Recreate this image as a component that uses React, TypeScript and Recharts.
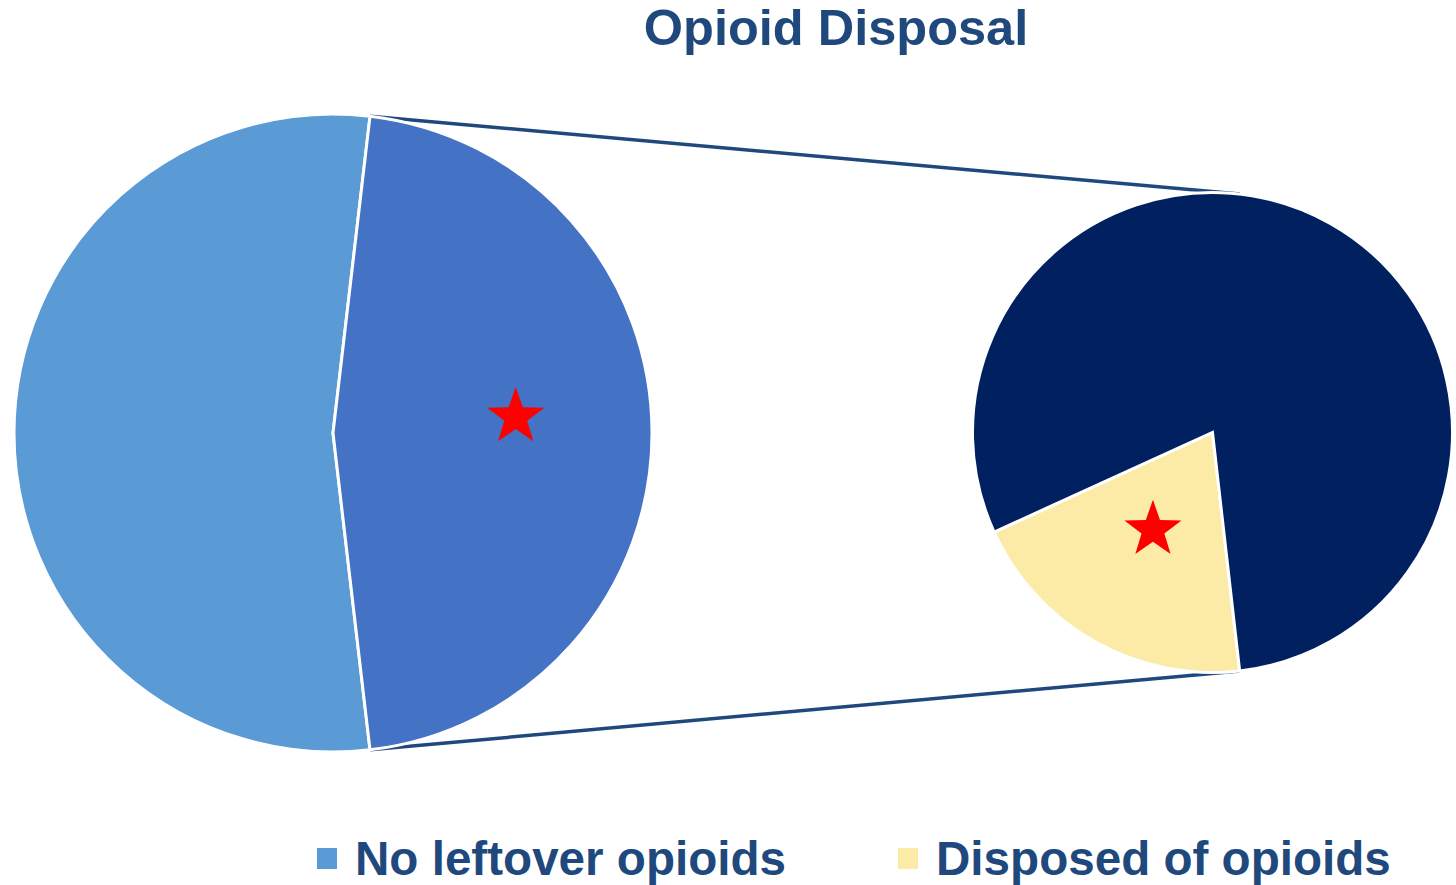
import { PieChart, Pie, Cell, Legend, Customized } from "recharts";

// survey answers, main pie
const mainCategories = ["No leftover opioids", "Leftover opioids"];
const mainValues = [29, 25];
const mainColors = ["#5B9BD5", "#4472C4"];

// breakdown of the leftover group, secondary pie
const splitCategories = ["Disposed of opioids", "Kept leftover opioids"];
const splitValues = [5, 20];
const splitColors = ["#FCEBA7", "#002060"];

const legendLabels = ["No leftover opioids", "Disposed of opioids"];
const legendColors = ["#5B9BD5", "#FCEBA7"];

const TEXT_COLOR = "#1F497D";
const FONT = '"Liberation Sans", Arial, sans-serif';

const W = 1456;
const H = 885;
const LEFT = { cx: 333, cy: 433, r: 319 };
const RIGHT = { cx: 1212.5, cy: 432.5, r: 240 };
const RIGHT_START = 204.5;
const LEGEND_X = [317, 898];

const RAD = Math.PI / 180;

const mainData = mainCategories.map((name, i) => ({ name, value: mainValues[i] }));
const splitData = splitCategories.map((name, i) => ({ name, value: splitValues[i] }));

const mainTotal = mainValues.reduce((a, b) => a + b, 0);
const splitTotal = splitValues.reduce((a, b) => a + b, 0);
// the leftover slice sits centred on the 3 o'clock axis
const halfLeftover = (mainValues[1] / mainTotal) * 180;
const splitEdge = RIGHT_START + (splitValues[0] / splitTotal) * 360;

function polar(cx: number, cy: number, r: number, deg: number) {
  return { x: cx + r * Math.cos(deg * RAD), y: cy - r * Math.sin(deg * RAD) };
}

function starPoints(x: number, y: number, outer: number) {
  const inner = outer * 0.4;
  const pts: string[] = [];
  for (let k = 0; k < 10; k++) {
    const r = k % 2 === 0 ? outer : inner;
    const a = (-90 + k * 36) * RAD;
    pts.push(`${x + r * Math.cos(a)},${y + r * Math.sin(a)}`);
  }
  return pts.join(" ");
}

// star marker drawn on a chosen slice
function makeStarLabel(target: number, radiusFrac: number, angleShift: number) {
  return (props: any) => {
    if (props.index !== target) return null;
    const p = polar(props.cx, props.cy, props.outerRadius * radiusFrac, props.midAngle + angleShift);
    return <polygon points={starPoints(p.x, p.y, 30)} fill="#FF0000" />;
  };
}

function Connectors() {
  const a1 = polar(LEFT.cx, LEFT.cy, LEFT.r, halfLeftover);
  const a2 = polar(RIGHT.cx, RIGHT.cy, RIGHT.r, 360 - splitEdge);
  const b1 = polar(LEFT.cx, LEFT.cy, LEFT.r, -halfLeftover);
  const b2 = polar(RIGHT.cx, RIGHT.cy, RIGHT.r, splitEdge);
  return (
    <g stroke={TEXT_COLOR} strokeWidth={3.5}>
      <line x1={a1.x} y1={a1.y} x2={a2.x} y2={a2.y} />
      <line x1={b1.x} y1={b1.y} x2={b2.x} y2={b2.y} />
    </g>
  );
}

function Title() {
  return (
    <text
      x={836}
      y={45}
      textAnchor="middle"
      fill={TEXT_COLOR}
      fontFamily={FONT}
      fontWeight="bold"
      fontSize={50.5}
    >
      Opioid Disposal
    </text>
  );
}

function LegendContent() {
  return (
    <div style={{ position: "relative", width: W, height: 47 }}>
      {legendLabels.map((label, i) => (
        <div
          key={label}
          style={{
            position: "absolute",
            left: LEGEND_X[i],
            top: 0,
            height: 47,
            display: "flex",
            alignItems: "center",
            whiteSpace: "nowrap",
          }}
        >
          <span
            style={{
              width: 20,
              height: 21,
              background: legendColors[i],
              marginRight: 18,
              display: "inline-block",
            }}
          />
          <span
            style={{
              fontFamily: FONT,
              fontWeight: "bold",
              fontSize: 47.6,
              lineHeight: 1,
              color: TEXT_COLOR,
            }}
          >
            {label}
          </span>
        </div>
      ))}
    </div>
  );
}

export default function App() {
  return (
    <div style={{ position: "absolute", left: 0, top: 0, width: W, height: H, background: "#fff" }}>
      <PieChart width={W} height={H} margin={{ top: 0, right: 0, bottom: 0, left: 0 }}>
        <Customized component={<Connectors />} />
        <Pie
          data={mainData}
          dataKey="value"
          nameKey="name"
          cx={LEFT.cx}
          cy={LEFT.cy}
          outerRadius={LEFT.r}
          startAngle={halfLeftover}
          endAngle={halfLeftover + 360}
          stroke="#fff"
          strokeWidth={3}
          label={makeStarLabel(1, 0.575, 5)}
          labelLine={false}
          isAnimationActive={false}
        >
          {mainData.map((d, i) => (
            <Cell key={d.name} fill={mainColors[i]} />
          ))}
        </Pie>
        <Pie
          data={splitData}
          dataKey="value"
          nameKey="name"
          cx={RIGHT.cx}
          cy={RIGHT.cy}
          outerRadius={RIGHT.r}
          startAngle={RIGHT_START}
          endAngle={RIGHT_START + 360}
          stroke="#fff"
          strokeWidth={3}
          label={makeStarLabel(0, 0.475, -2)}
          labelLine={false}
          isAnimationActive={false}
        >
          {splitData.map((d, i) => (
            <Cell key={d.name} fill={splitColors[i]} />
          ))}
        </Pie>
        <Customized component={<Title />} />
        <Legend
          content={<LegendContent />}
          wrapperStyle={{ position: "absolute", left: 0, top: 835, width: W }}
        />
      </PieChart>
    </div>
  );
}
